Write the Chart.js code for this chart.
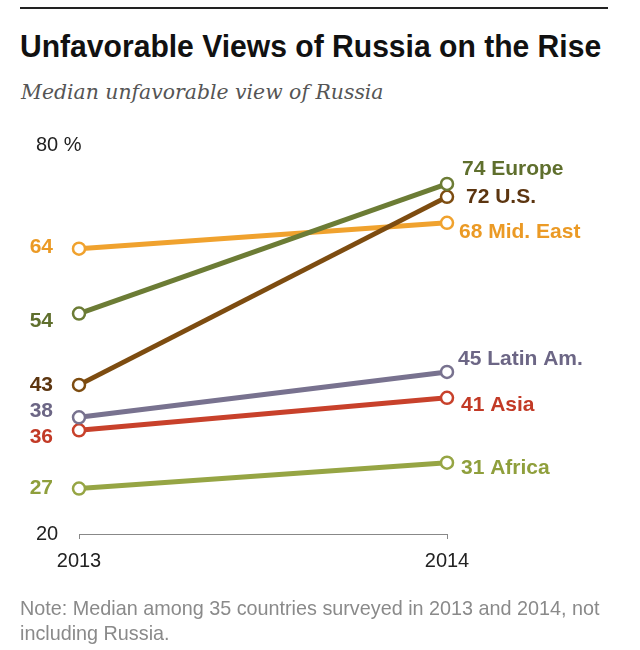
<!DOCTYPE html>
<html>
<head>
<meta charset="utf-8">
<script src="https://cdn.jsdelivr.net/npm/chart.js@4.4.1/dist/chart.umd.min.js"></script>
<style>
  body { margin: 0; background: #fff; width: 640px; height: 650px; position: relative; overflow: hidden; }
  #rule { position: absolute; left: 20px; top: 7px; width: 588px; height: 2px; background: #222; }
  #title { position: absolute; left: 20px; top: 28px; font-family: "Liberation Sans", Arial, sans-serif; font-weight: bold; font-size: 32px; line-height: 36px; color: #111; white-space: nowrap; transform: scaleX(0.94); transform-origin: left top; }
  #subtitle { position: absolute; left: 21px; top: 79px; font-family: "DejaVu Serif", Georgia, serif; font-style: italic; font-size: 20.4px; line-height: 26px; color: #555; white-space: nowrap; }
  #note { position: absolute; left: 20px; top: 596px; font-family: "Liberation Sans", Arial, sans-serif; font-size: 19.8px; line-height: 25px; color: #8a8a8a; white-space: nowrap; }
  canvas { position: absolute; left: 0; top: 0; }
</style>
</head>
<body>
<div id="rule"></div>
<div id="title">Unfavorable Views of Russia on the Rise</div>
<div id="subtitle">Median unfavorable view of Russia</div>
<canvas id="myChart" width="640" height="650"></canvas>
<div id="note">Note: Median among 35 countries surveyed in 2013 and 2014, not<br>including Russia.</div>

<script>
// data
const years = ['2013', '2014'];
const regions = ['Europe', 'U.S.', 'Mid. East', 'Latin Am.', 'Asia', 'Africa'];
const europe = [54, 74];
const us = [43, 72];
const midEast = [64, 68];
const latinAm = [38, 45];
const asia = [36, 41];
const africa = [27, 31];
const yTicks = [20, 80];

const seriesValues = [europe, us, midEast, latinAm, asia, africa];

// styles
const lineColors = ['#6c7c35', '#7d4c10', '#f0a22e', '#78728f', '#c8412b', '#96a544'];
const textColors = ['#5f6f2d', '#5c3510', '#eb9a25', '#6c6685', '#c23a26', '#8f9f3c'];
// label nudges (px) so the end labels don't collide
const leftNudge = [8, 0, -2, -6, 7, 0];
const rightNudge = [-15, 0, 9, -13, 7, 6];
const rightShift = [15, 19, 12, 11, 14, 14];

const ctx = document.getElementById('myChart');

const datasets = regions.map((name, i) => ({
    label: name,
    data: seriesValues[i],
    borderColor: lineColors[i],
    backgroundColor: '#fff',
    borderWidth: 5,
    pointRadius: 6,
    pointBorderWidth: 2.5,
    pointBackgroundColor: '#fff',
    pointBorderColor: lineColors[i],
    order: i
}));

// draws the values at both ends of every line, plus the y tick labels
// (chart.js clips left-aligned y ticks to the axis box, so they go here)
const endLabels = {
    id: 'endLabels',
    afterDatasetsDraw(chart) {
        const c = chart.ctx;
        const y = chart.scales.y;
        c.save();
        c.textBaseline = 'middle';

        c.font = '20px "Liberation Sans", Arial, sans-serif';
        c.fillStyle = '#222';
        c.textAlign = 'left';
        yTicks.forEach(v => {
            c.fillText(v === 80 ? '80 %' : String(v), 36, y.getPixelForValue(v));
        });

        c.font = 'bold 21px "Liberation Sans", Arial, sans-serif';
        chart.data.datasets.forEach((ds, i) => {
            const pts = chart.getDatasetMeta(i).data;
            c.fillStyle = textColors[i];
            c.textAlign = 'right';
            c.fillText(ds.data[0], pts[0].x - 26, pts[0].y + leftNudge[i]);
            c.textAlign = 'left';
            c.fillText(ds.data[1] + ' ' + ds.label, pts[1].x + rightShift[i], pts[1].y + rightNudge[i]);
        });
        c.restore();
    }
};

const myChart = new Chart(ctx, {
    type: 'line',
    data: { labels: years, datasets: datasets },
    options: {
        responsive: false,
        animation: false,
        layout: { padding: { left: 36, right: 193, top: 145, bottom: 0 } },
        plugins: {
            legend: { display: false },
            tooltip: { enabled: false }
        },
        scales: {
            x: {
                offset: false,
                grid: { display: true, drawOnChartArea: false, drawTicks: true, tickLength: 5, color: '#888', lineWidth: 1 },
                border: { display: true, color: '#888', width: 1 },
                ticks: { color: '#222', padding: 10, font: { family: '"Liberation Sans", Arial', size: 20 } },
                afterFit(scale) { scale.height = 116; }
            },
            y: {
                min: 20,
                max: 80,
                grid: { display: false },
                border: { display: false },
                ticks: { display: false },
                afterFit(scale) { scale.width = 43; }
            }
        }
    },
    plugins: [endLabels]
});
</script>
</body>
</html>
